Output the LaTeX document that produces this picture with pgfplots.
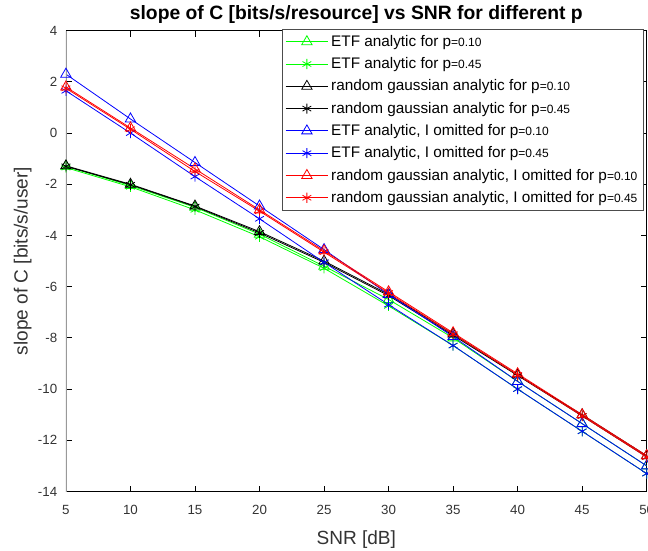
\documentclass[border=0pt]{standalone}
\usepackage{pgfplots}
\pgfplotsset{compat=1.18}
\usepackage{fontspec}
\setmainfont{Liberation Sans}

\pgfplotstableread{
snr  etfa  etfb  rga   rgb   etfoa  etfob  rgoa   rgob
5    -1.30 -1.35 -1.28 -1.30  2.30   1.65   1.80   1.75
10   -2.05 -2.10 -2.00 -2.02  0.55   0.00   0.20   0.15
15   -2.90 -3.00 -2.85 -2.87 -1.15  -1.70  -1.40  -1.50
20   -3.95 -4.05 -3.85 -3.90 -2.85  -3.35  -3.00  -3.05
25   -5.20 -5.28 -5.00 -5.05 -4.55  -5.05  -4.60  -4.65
30   -6.50 -6.75 -6.30 -6.35 -6.30  -6.70  -6.20  -6.25
35   -8.00 -8.30 -7.85 -7.90 -7.95  -8.30  -7.80  -7.85
40   -9.70 -10.00 -9.45 -9.47 -9.70 -10.00 -9.40  -9.45
45   -11.35 -11.65 -11.00 -11.05 -11.35 -11.65 -11.00 -11.05
50   -13.00 -13.30 -12.60 -12.65 -13.00 -13.30 -12.60 -12.65
}\slopedata

\begin{document}
\begin{tikzpicture}
\begin{axis}[
  scale only axis,
  width=436pt, height=346pt,
  xmin=5, xmax=50, ymin=-14, ymax=4,
  xtick={5,10,...,50}, ytick={-14,-12,...,4},
  tick align=inside,
  major tick length=4.5pt,
  tick style={black, line width=0.6pt},
  axis line style={black, line width=0.6pt},
  ticklabel style={font=\fontsize{10}{12}\selectfont, text=black!80},
  xticklabel style={yshift=-7pt},
  yticklabel style={xshift=-3pt},
  /pgf/number format/assume math mode=true,
  title={\textbf{slope of C [bits/s/resource] vs SNR for different p}},
  title style={font=\fontsize{14.5}{16}\selectfont, yshift=-4pt},
  xlabel={SNR [dB]},
  ylabel={slope of C [bits/s/user]},
  label style={font=\fontsize{14.3}{17}\selectfont, text=black!80},
  xlabel style={yshift=-5pt},
  ylabel style={yshift=-2pt},
  legend cell align=left,
  legend style={at={(0.995,1.004)}, anchor=north east, draw=black!70, fill=white,
    font=\fontsize{11.5}{13.5}\selectfont, row sep=2.9pt, inner sep=2.5pt,
    line width=0.6pt},
  legend image code/.code={
    \draw[mark repeat=2, mark phase=2, #1] plot coordinates {(0cm,0cm) (0.56cm,0cm) (1.12cm,0cm)};},
  every axis plot/.append style={line width=0.6pt},
]
\addplot[green, mark=triangle, mark size=4.5pt] table[x=snr, y=etfa] {\slopedata};
\addlegendentry{ETF analytic for p{\small=0.10}}
\addplot[green, mark=asterisk, mark size=3.8pt] table[x=snr, y=etfb] {\slopedata};
\addlegendentry{ETF analytic for p{\small=0.45}}
\addplot[black, mark=triangle, mark size=4.5pt] table[x=snr, y=rga] {\slopedata};
\addlegendentry{random gaussian analytic for p{\small=0.10}}
\addplot[black, mark=asterisk, mark size=3.8pt] table[x=snr, y=rgb] {\slopedata};
\addlegendentry{random gaussian analytic for p{\small=0.45}}
\addplot[blue, mark=triangle, mark size=4.5pt] table[x=snr, y=etfoa] {\slopedata};
\addlegendentry{ETF analytic, I omitted for p{\small=0.10}}
\addplot[blue, mark=asterisk, mark size=3.8pt] table[x=snr, y=etfob] {\slopedata};
\addlegendentry{ETF analytic, I omitted for p{\small=0.45}}
\addplot[red, mark=triangle, mark size=4.5pt] table[x=snr, y=rgoa] {\slopedata};
\addlegendentry{random gaussian analytic, I omitted for p{\small=0.10}}
\addplot[red, mark=asterisk, mark size=3.8pt] table[x=snr, y=rgob] {\slopedata};
\addlegendentry{random gaussian analytic, I omitted for p{\small=0.45}}
\draw[black!40, line width=1.2pt] (rel axis cs:0,0) -- (rel axis cs:0,1);
\end{axis}
\pgfresetboundingbox
\useasboundingbox (-49.5pt,-44pt) rectangle (437pt,369pt);
\end{tikzpicture}
\end{document}
